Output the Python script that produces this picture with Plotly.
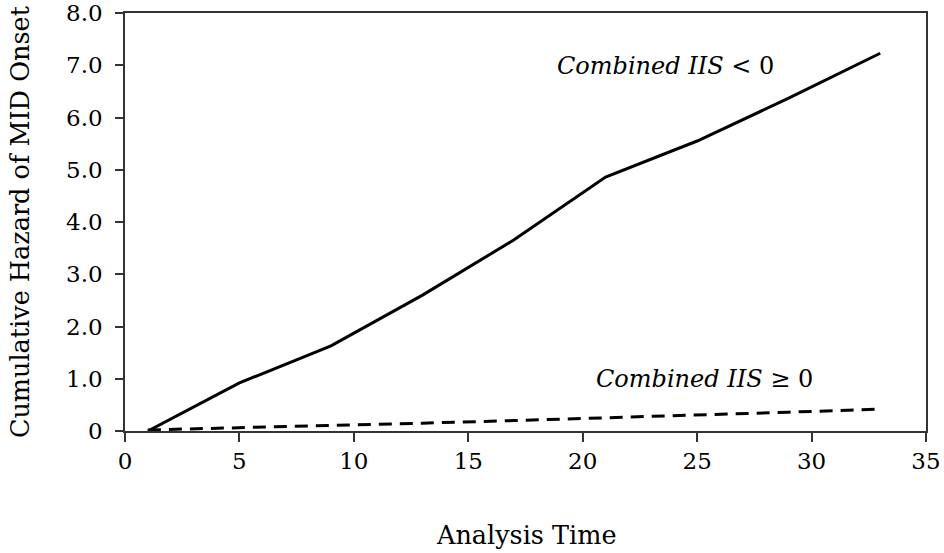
import plotly.graph_objects as go

time_points = [1, 5, 9, 13, 17, 21, 25, 29, 33]
hazard_neg = [0.0, 0.92, 1.63, 2.60, 3.66, 4.86, 5.55, 6.37, 7.23]
hazard_pos = [0.02, 0.06, 0.10, 0.15, 0.20, 0.25, 0.30, 0.36, 0.42]

x_ticks = [0, 5, 10, 15, 20, 25, 30, 35]
y_ticks = [0, 1, 2, 3, 4, 5, 6, 7, 8]
y_tick_labels = ["0", "1.0", "2.0", "3.0", "4.0", "5.0", "6.0", "7.0", "8.0"]

FONT = "DejaVu Serif"

fig = go.Figure()
fig.add_trace(go.Scatter(x=time_points, y=hazard_neg, mode="lines",
                         line=dict(color="black", width=3), showlegend=False))
fig.add_trace(go.Scatter(x=time_points, y=hazard_pos, mode="lines",
                         line=dict(color="black", width=3, dash="13px,8px"), showlegend=False))

fig.add_annotation(x=23.6, y=6.98, text="<i>Combined IIS</i> &lt; 0", showarrow=False,
                   font=dict(family=FONT, size=24, color="black"))
fig.add_annotation(x=25.3, y=0.99, text="<i>Combined IIS</i> ≥ 0", showarrow=False,
                   font=dict(family=FONT, size=24, color="black"))

# axis titles placed as paper annotations for precise positioning
fig.add_annotation(xref="paper", yref="paper", x=0.5, y=-0.249, text="Analysis Time",
                   xanchor="center", yanchor="middle",
                   showarrow=False, font=dict(family=FONT, size=25.5, color="black"))
fig.add_annotation(xref="paper", yref="paper", x=-0.131, y=0.5,
                   text="Cumulative Hazard of MID Onset", textangle=-90,
                   xanchor="center", yanchor="middle",
                   showarrow=False, font=dict(family=FONT, size=25.5, color="black"))

fig.update_layout(
    width=944, height=553,
    margin=dict(l=125, r=18, t=13, b=122),
    plot_bgcolor="white", paper_bgcolor="white",
    font=dict(family=FONT, size=21.5, color="black"),
)
fig.update_xaxes(range=[0, 35], tickvals=x_ticks, ticks="outside", ticklen=9, tickwidth=1.5,
                 tickcolor="#333", showline=True, linecolor="#333", linewidth=1.5, mirror=True,
                 showgrid=False, zeroline=False, automargin=False, ticklabeloverflow="allow",
                 tickfont=dict(size=23))
fig.update_yaxes(range=[0, 8], tickvals=y_ticks, ticktext=y_tick_labels, ticks="outside",
                 ticklen=8, tickwidth=1.5, tickcolor="#333", showline=True, linecolor="#333",
                 linewidth=1.5, mirror=True, showgrid=False, zeroline=False, automargin=False,
                 ticklabeloverflow="allow", ticklabelstandoff=8,
                 tickfont=dict(size=23))

fig.write_html("out.html", config={"displayModeBar": False},
               post_script="document.body.style.margin='0';")
